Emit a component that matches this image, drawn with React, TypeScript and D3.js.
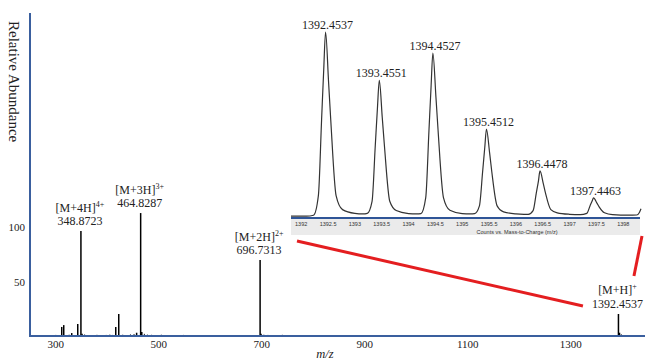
import React from "react";
import * as d3 from "d3";

const width = 645;
const height = 362;

// main spectrum: [m/z, relative abundance]
const mainPeaks: [number, number][] = [
  [311.6, 8.3], [315.5, 10], [331, 2.7], [342.7, 11], [348.87, 96.3], [351, 2],
  [416.5, 8.3], [422.3, 20.2], [457, 3], [464.83, 112.8], [467, 3.7],
  [696.73, 69.7], [698.5, 2], [1392.45, 20.2], [1394.5, 3],
];
const noisePeaks: [number, number][] = [
  [285, 0.8], [292, 0.6], [300, 1.0], [306, 0.7], [320, 0.9], [326, 1.2], [336, 0.8],
  [356, 1.4], [362, 0.9], [372, 0.7], [380, 1.1], [390, 0.8], [398, 1.0], [405, 1.3],
  [410, 1.0], [430, 1.2], [436, 0.9], [445, 1.5], [452, 1.8], [472, 2.0], [478, 1.3],
  [486, 1.1], [495, 0.9], [505, 1.2], [515, 0.8], [530, 0.9], [548, 1.0], [565, 0.7],
  [590, 0.8], [620, 0.7], [650, 0.9], [680, 0.8], [704, 1.2], [712, 1.0], [725, 0.9],
  [740, 1.1], [755, 0.8], [770, 0.7], [1365, 0.6], [1398, 1.6], [1402, 0.8],
];
const ionLabels = [
  { ion: "[M+4H]", charge: "4+", mz: 348.87, value: 96.3, text: "348.8723" },
  { ion: "[M+3H]", charge: "3+", mz: 464.83, value: 112.8, text: "464.8287" },
  { ion: "[M+2H]", charge: "2+", mz: 696.73, value: 69.7, text: "696.7313" },
  { ion: "[M+H]", charge: "+", mz: 1392.45, value: 20.2, text: "1392.4537" },
];
const xTicks = [300, 500, 700, 900, 1100, 1300];
const yTicks = [50, 100];

// inset: isotope cluster of [M+H]+
const insetTrace: [number, number][] = [
  [1391.81, 1.0], [1392.1, 1.0], [1392.23, 1.5], [1392.32, 12], [1392.38, 53], [1392.42, 80],
  [1392.454, 100], [1392.51, 73], [1392.55, 53], [1392.65, 12], [1392.77, 4.5], [1393.0, 2.5],
  [1393.15, 2.2], [1393.23, 2.5], [1393.32, 9], [1393.38, 39], [1393.42, 59], [1393.455, 74],
  [1393.51, 54], [1393.55, 39], [1393.65, 9], [1393.77, 4], [1394.0, 2.4], [1394.15, 2.2],
  [1394.23, 2.4], [1394.32, 11], [1394.38, 47], [1394.42, 71], [1394.453, 88.7], [1394.51, 65],
  [1394.55, 47], [1394.65, 11], [1394.77, 4.2], [1395.0, 2.4], [1395.15, 2.2], [1395.23, 2.3],
  [1395.32, 6.5], [1395.38, 25], [1395.42, 38], [1395.451, 47.8], [1395.51, 35], [1395.55, 25],
  [1395.65, 6.5], [1395.77, 3.3], [1396.0, 2.2], [1396.15, 2.0], [1396.23, 2.0], [1396.32, 4],
  [1396.38, 13.5], [1396.42, 20], [1396.448, 25.3], [1396.51, 18.5], [1396.55, 13.5],
  [1396.65, 4.5], [1396.77, 2.8], [1397.0, 2.0], [1397.2, 1.8], [1397.32, 2.5], [1397.38, 6.5],
  [1397.42, 9.2], [1397.446, 10.8], [1397.51, 8], [1397.55, 6], [1397.65, 2.8], [1397.8, 1.8],
  [1398.1, 1.5], [1398.25, 1.6], [1398.3, 3], [1398.33, 5],
];
const insetPeaks = [
  { mz: 1392.454, value: 100, text: "1392.4537" },
  { mz: 1393.455, value: 74, text: "1393.4551" },
  { mz: 1394.453, value: 88.7, text: "1394.4527" },
  { mz: 1395.451, value: 47.8, text: "1395.4512" },
  { mz: 1396.448, value: 25.3, text: "1396.4478" },
  { mz: 1397.446, value: 10.8, text: "1397.4463" },
];
const insetTicks = [1392, 1392.5, 1393, 1393.5, 1394, 1394.5, 1395, 1395.5, 1396, 1396.5, 1397, 1397.5, 1398];

const serif = "'Liberation Serif', 'Times New Roman', serif";
const sans = "'Liberation Sans', Arial, sans-serif";
const axisBlue = "#3a5f9e";

export default function App() {
  // main axes
  const x = d3.scaleLinear().domain([250, 1444]).range([30, 645]);
  const y = d3.scaleLinear().domain([0, 100]).range([336, 227]);

  // inset axes
  const ix = d3.scaleLinear().domain([1391.81, 1398.33]).range([291, 641]);
  const iy = d3.scaleLinear().domain([0, 100]).range([218, 32]);
  const bandTop = iy(0) + 1;
  const bandBottom = 235;

  const trace = d3
    .line<[number, number]>()
    .x((d) => ix(d[0]))
    .y((d) => iy(d[1]))
    .curve(d3.curveMonotoneX);

  const mh = x(1392.45);

  return (
    <div style={{ position: "absolute", left: 0, top: 0 }}>
      <svg width={width} height={height} style={{ display: "block", background: "#fff" }}>
        {/* spectrum sticks */}
        {noisePeaks.map(([m, v], i) => (
          <line key={"n" + i} x1={x(m)} x2={x(m)} y1={y(0)} y2={y(v)} stroke="#222" strokeWidth={1} />
        ))}
        {mainPeaks.map(([m, v], i) => (
          <line key={"p" + i} x1={x(m)} x2={x(m)} y1={y(0)} y2={y(v)} stroke="#000" strokeWidth={1.5} />
        ))}

        {/* axes */}
        <line x1={30} x2={width} y1={y(0)} y2={y(0)} stroke={axisBlue} strokeWidth={2} />
        <line x1={30} x2={30} y1={13} y2={y(0) + 1} stroke={axisBlue} strokeWidth={2} />
        {xTicks.map((t) => (
          <text key={t} x={x(t)} y={y(0) + 12} textAnchor="middle" fontFamily={serif} fontSize={11} fill="#222">
            {t}
          </text>
        ))}
        {yTicks.map((t) => (
          <text key={t} x={25} y={y(t) + 4} textAnchor="end" fontFamily={serif} fontSize={11} fill="#222">
            {t}
          </text>
        ))}
        <text x={325} y={358} textAnchor="middle" fontFamily={serif} fontStyle="italic" fontSize={12.5} fill="#222">
          m/z
        </text>
        <text transform="translate(9,21) rotate(90)" fontFamily={serif} fontSize={15} fill="#222">
          Relative Abundance
        </text>

        {/* ion labels */}
        {ionLabels.map((d) => (
          <g key={d.text} fontFamily={serif} fill="#222" textAnchor="middle">
            <text x={x(d.mz) - 1} y={y(d.value) - 19.5} fontSize={12}>
              {d.ion}
              <tspan fontSize={8} dy={-5}>{d.charge}</tspan>
            </text>
            <text x={x(d.mz) - 1} y={y(d.value) - 6} fontSize={12}>
              {d.text}
            </text>
          </g>
        ))}

        {/* inset */}
        <rect x={ix.range()[0]} y={bandTop} width={ix.range()[1] - ix.range()[0] - 1} height={bandBottom - bandTop} fill="#ebebeb" />
        <path d={trace(insetTrace) ?? ""} fill="none" stroke="#333" strokeWidth={1.2} />
        <line x1={ix.range()[0]} x2={ix.range()[1] - 1} y1={iy(0)} y2={iy(0)} stroke="#2f5597" strokeWidth={2} />
        {insetTicks.map((t) => (
          <text key={t} x={ix(t)} y={iy(0) + 7.5} textAnchor="middle" fontFamily={sans} fontSize={5.5} fill="#333">
            {t}
          </text>
        ))}
        <text x={517} y={bandBottom - 1} textAnchor="middle" fontFamily={sans} fontSize={5.5} fill="#333">
          Counts vs. Mass-to-Charge (m/z)
        </text>
        {insetPeaks.map((d) => (
          <text key={d.text} x={ix(d.mz) + 2} y={iy(d.value) - 3} textAnchor="middle" fontFamily={serif} fontSize={12} fill="#222">
            {d.text}
          </text>
        ))}

        {/* zoom connectors */}
        <line x1={ix.range()[0] + 6} y1={bandBottom + 6} x2={mh - 35.5} y2={y(0) - 30} stroke="#e41e20" strokeWidth={3} />
        <line x1={ix.range()[1] + 1} y1={bandBottom + 1} x2={mh + 15.5} y2={y(0) - 60} stroke="#e41e20" strokeWidth={3} />
      </svg>
    </div>
  );
}
